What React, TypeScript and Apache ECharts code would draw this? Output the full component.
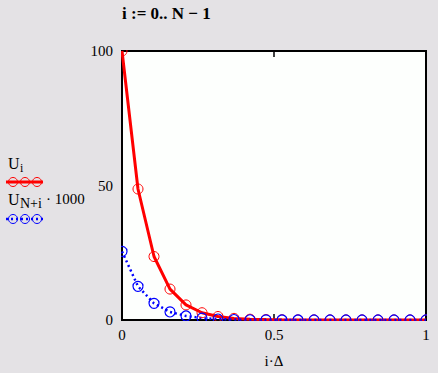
import React, { useEffect, useRef } from "react";
import * as echarts from "echarts";

const xValues = [0, 0.0526, 0.1053, 0.1579, 0.2105, 0.2632, 0.3158, 0.3684, 0.4211, 0.4737, 0.5263, 0.5789, 0.6316, 0.6842, 0.7368, 0.7895, 0.8421, 0.8947, 0.9474, 1.0];
const uValues = [100, 48.7, 23.6, 11.5, 5.6, 2.7, 1.3, 0.6, 0.3, 0.15, 0.07, 0.03, 0.02, 0.01, 0, 0, 0, 0, 0, 0];
const uN1000Values = [25.5, 12.5, 6.2, 3.0, 1.5, 0.7, 0.35, 0.17, 0.08, 0.04, 0.02, 0.01, 0, 0, 0, 0, 0, 0, 0, 0];
const xTickLabels: Record<string, string> = { "0": "0", "0.5": "0.5", "1": "1" };
const yTickLabels: Record<string, string> = { "0": "0", "50": "50", "100": "100" };

const SERIF = "'Liberation Serif', 'DejaVu Serif', serif";
const RED = "#ff0000";
const BLUE = "#0000ff";
const BG = "#e4e2e5";

export default function App() {
  const ref = useRef<HTMLDivElement>(null);
  useEffect(() => {
    document.body.style.margin = "0";
    document.body.style.background = BG;
    if (!ref.current) return;
    const chart = echarts.init(ref.current, null, { renderer: "svg" });
    const redData = xValues.map((x, i) => [x, uValues[i]]);
    const blueData = xValues.map((x, i) => [x, uN1000Values[i]]);
    const legendCircles = (y: number, color: string) =>
      [13, 25, 37].map((cx) => ({
        type: "circle",
        shape: { cx, cy: y, r: 4.5 },
        style: { fill: "none", stroke: color, lineWidth: 1 },
      }));
    // masks that hide the parts of the markers that fall outside the plot frame
    const mask = (x: number, y: number, width: number, height: number) => ({
      type: "rect",
      z: 50,
      silent: true,
      shape: { x, y, width, height },
      style: { fill: BG },
    });
    chart.setOption({
      animation: false,
      backgroundColor: BG,
      grid: {
        left: 122,
        right: 12,
        top: 51,
        bottom: 53,
        show: true,
        backgroundColor: "#fdfffd",
        borderColor: "#000",
        borderWidth: 2,
      },
      xAxis: [
        {
          type: "value",
          min: 0,
          max: 1,
          interval: 0.5,
          position: "bottom",
          axisLine: { show: false },
          axisTick: { show: true, inside: true, length: 6, lineStyle: { color: "#000", width: 1.5 } },
          splitLine: { show: false },
          axisLabel: {
            color: "#000",
            fontFamily: SERIF,
            fontSize: 15,
            margin: 7,
            formatter: (v: number) => xTickLabels[String(v)] ?? "",
          },
          name: "i·Δ",
          nameLocation: "middle",
          nameGap: 33,
          nameTextStyle: { color: "#000", fontFamily: SERIF, fontSize: 15 },
        },
        {
          type: "value",
          min: 0,
          max: 1,
          interval: 0.5,
          position: "top",
          axisLine: { show: false },
          axisTick: { show: true, inside: true, length: 6, lineStyle: { color: "#000", width: 1.5 } },
          splitLine: { show: false },
          axisLabel: { show: false },
        },
      ],
      yAxis: {
        type: "value",
        min: 0,
        max: 100,
        interval: 50,
        axisLine: { show: false },
        axisTick: { show: false },
        splitLine: { show: false },
        axisLabel: {
          color: "#000",
          fontFamily: SERIF,
          fontSize: 15,
          margin: 9,
          formatter: (v: number) => yTickLabels[String(v)] ?? "",
        },
      },
      series: [
        {
          name: "U_i",
          type: "line",
          data: redData,
          xAxisIndex: 0,
          symbol: "circle",
          symbolSize: 10,
          itemStyle: { color: "transparent", borderColor: RED, borderWidth: 1 },
          lineStyle: { color: RED, width: 3 },
          clip: true,
        },
        {
          name: "U_N+i·1000",
          type: "line",
          data: blueData,
          xAxisIndex: 0,
          symbol: "circle",
          symbolSize: 10,
          itemStyle: { color: "transparent", borderColor: BLUE, borderWidth: 1.2 },
          lineStyle: { color: BLUE, width: 2.5, type: [2, 3] },
          clip: true,
        },
      ],
      graphic: [
        mask(116, 321, 322, 5),
        mask(114, 40, 7, 286),
        mask(114, 40, 324, 10),
        mask(427, 40, 11, 286),
        {
          type: "text",
          left: 122,
          top: 5,
          style: { text: "i := 0.. N − 1", fill: "#000", font: `bold 17px ${SERIF}` },
        },
        { type: "text", left: 8, top: 155, style: { text: "U", fill: "#000", font: `16px ${SERIF}` } },
        { type: "text", left: 20, top: 162, style: { text: "i", fill: "#000", font: `12px ${SERIF}` } },
        { type: "line", shape: { x1: 6, y1: 182, x2: 43, y2: 182 }, style: { stroke: RED, lineWidth: 3 } },
        ...legendCircles(182, RED),
        { type: "text", left: 8, top: 191, style: { text: "U", fill: "#000", font: `16px ${SERIF}` } },
        { type: "text", left: 20, top: 196, style: { text: "N+i", fill: "#000", font: `14px ${SERIF}` } },
        { type: "text", left: 46, top: 191, style: { text: "· 1000", fill: "#000", font: `15px ${SERIF}` } },
        { type: "line", shape: { x1: 6, y1: 219, x2: 43, y2: 219 }, style: { stroke: BLUE, lineWidth: 2.5, lineDash: [2, 3] } },
        ...legendCircles(219, BLUE),
      ],
    });
    return () => chart.dispose();
  }, []);
  return <div ref={ref} style={{ width: 438, height: 373 }} />;
}
